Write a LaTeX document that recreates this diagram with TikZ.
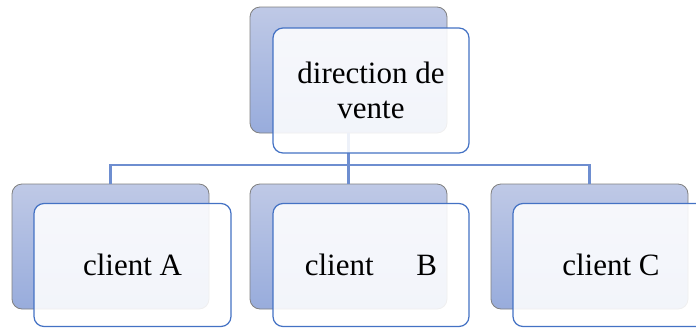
\documentclass[tikz,border=0pt]{standalone}
\usepackage{fontspec}
\setmainfont{Liberation Serif}
\begin{document}
\begin{tikzpicture}[x=1pt,y=-1pt,
  backbox/.style={draw=black!50, line width=0.8pt, rounded corners=10pt,
    top color=backtop, bottom color=backbot, minimum width=197pt, minimum height=125pt,
    inner sep=0pt, outer sep=0pt},
  frontbox/.style={draw=frontline, line width=1.2pt, rounded corners=10pt,
    fill=white, fill opacity=0.88, text opacity=1, minimum width=196pt, minimum height=123pt,
    inner sep=0pt, outer sep=0pt, align=center,
    font=\fontsize{31}{34.5}\selectfont},
  conn/.style={draw=connblue, line width=2.8pt}]
\definecolor{backtop}{HTML}{BFC9E6}
\definecolor{backbot}{HTML}{98ACDC}
\definecolor{frontline}{HTML}{4472C4}
\definecolor{connblue}{HTML}{6E8ED0}
\clip (0,0) rectangle (696,327);
% back boxes
\node[backbox, minimum height=126pt] (tback) at (348.5,70) {};
\node[backbox] (aback) at (110.5,246.5) {};
\node[backbox] (bback) at (348.5,246.5) {};
\node[backbox] (cback) at (589.5,246.5) {};
% connectors
\coordinate (j) at (348.5,165);
\draw[conn] (tback.south) -- (j);
\draw[conn] (j) -| (aback.north);
\draw[conn] (j) -- (bback.north);
\draw[conn] (j) -| (cback.north);
% front boxes
\node[frontbox, minimum height=125pt] (tfront) at (371,90.5) {direction de\\vente};
\node[frontbox, minimum width=197pt] (afront) at (132.5,265) {client A};
\node[frontbox] (bfront) at (371,265) {client\hspace*{35pt} B};
\node[frontbox] (cfront) at (611,265) {client C};
\end{tikzpicture}
\end{document}
